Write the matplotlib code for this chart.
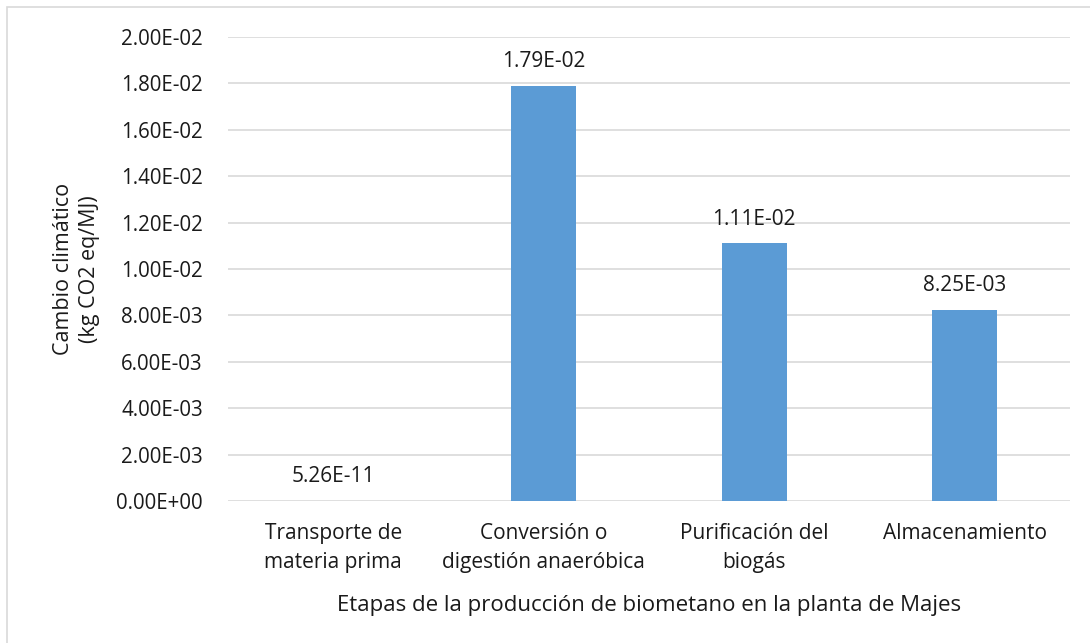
import numpy as np
import matplotlib.pyplot as plt
from matplotlib.patches import Rectangle
from matplotlib.ticker import FuncFormatter


etapas = ["Transporte de\nmateria prima", "Conversión o\ndigestión anaeróbica",
          "Purificación del\nbiogás", "Almacenamiento"]
cambio_climatico = [5.26e-11, 1.79e-2, 1.11e-2, 8.25e-3]
y_ticks = np.arange(0, 0.0201, 0.002)

plt.rcParams['font.family'] = ['Open Sans', 'DejaVu Sans']
text_color = '#1a1a1a'

fig = plt.figure(figsize=(10.9, 6.43), dpi=100)
ax = fig.add_axes([228 / 1090, 1 - 501 / 643, 842 / 1090, 464 / 643])

x = np.arange(len(etapas))
ax.bar(x, cambio_climatico, width=0.31, color='#5b9bd5', zorder=3)

for xi, v in zip(x, cambio_climatico):
    ax.annotate(f'{v:.2E}', (xi, v), xytext=(0, 10), textcoords='offset points',
                ha='center', va='bottom', fontsize=15, color=text_color)

ax.set_xlim(-0.5, len(etapas) - 0.5)
ax.set_ylim(0, 0.02)
ax.set_yticks(y_ticks)
ax.yaxis.set_major_formatter(FuncFormatter(lambda v, _: f'{v:.2E}'))
ax.set_xticks(x)
ax.set_xticklabels(etapas, fontsize=15, color=text_color, linespacing=1.5)
ax.tick_params(axis='y', labelsize=14.8, labelcolor=text_color, length=0, pad=18)
ax.tick_params(axis='x', length=0, pad=16)

ax.grid(axis='y', color='#d9d9d9', linewidth=1.2, zorder=0)
for s in ax.spines.values():
    s.set_visible(False)

ax.set_ylabel('Cambio climático\n(kg CO2 eq/MJ)', fontsize=15.5, color=text_color,
              labelpad=12, linespacing=1.3)
ax.set_xlabel('Etapas de la producción de biometano en la planta de Majes',
              fontsize=16, color=text_color, labelpad=16)

# chart frame
fig.patches.append(Rectangle((7 / 1090, -0.1), 1.2, 1 - 7 / 643 + 0.1,
                             transform=fig.transFigure, fill=False,
                             edgecolor='#d9d9d9', linewidth=1.2))

fig.savefig('out.png', dpi=100)
